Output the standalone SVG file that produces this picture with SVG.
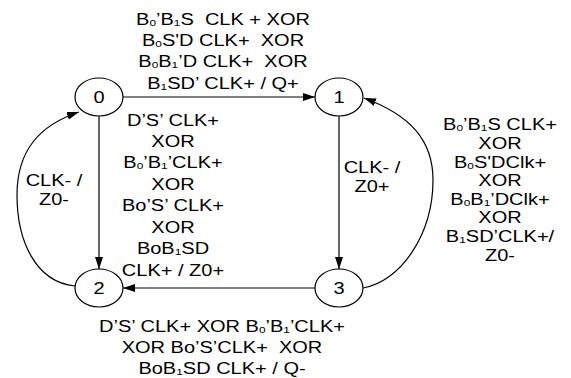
<svg xmlns="http://www.w3.org/2000/svg" width="571" height="378" viewBox="0 0 571 378">
  <style>
    .t { font-family: "Liberation Sans", Arial, sans-serif; font-size: 16px; fill: #000; text-anchor: middle; }
    .s { font-size: 9.5px; }
    .node { fill: #fff; stroke: #000; stroke-width: 1.2; }
    .edge { fill: none; stroke: #000; stroke-width: 1.2; marker-end: url(#ah); }
  </style>
  <defs>
    <marker id="ah" markerWidth="13" markerHeight="9" refX="12" refY="4" orient="auto" markerUnits="userSpaceOnUse">
      <path d="M0,0 L12,4 L0,8 z" fill="#000"/>
    </marker>
  </defs>
  <rect width="571" height="378" fill="#fff"/>

  <!-- transitions -->
  <g id="connectors">
    <line class="edge" x1="123" y1="97" x2="315" y2="97"/>
    <line class="edge" x1="99" y1="116" x2="99" y2="269"/>
    <line class="edge" x1="339" y1="116" x2="339" y2="269"/>
    <line class="edge" x1="315" y1="288" x2="123" y2="288"/>
    <path class="edge" d="M75,286 C35,282 17,240 17,195 C17,150 40,125 79,112"/>
    <path class="edge" d="M363,288 C400,282 433,235 433,180 C433,140 410,115 364,98"/>
  </g>

  <!-- states -->
  <g id="s0">
    <ellipse class="node" cx="99" cy="97" rx="24" ry="19"/>
    <text class="t" transform="matrix(1.25 0 0 1 99 0)" x="0" y="103">0</text>
  </g>
  <g id="s1">
    <ellipse class="node" cx="339" cy="97" rx="24" ry="19"/>
    <text class="t" transform="matrix(1.25 0 0 1 339 0)" x="0" y="103">1</text>
  </g>
  <g id="s2">
    <ellipse class="node" cx="99" cy="288" rx="24" ry="19"/>
    <text class="t" transform="matrix(1.25 0 0 1 99 0)" x="0" y="294">2</text>
  </g>
  <g id="s3">
    <ellipse class="node" cx="339" cy="288" rx="24" ry="19"/>
    <text class="t" transform="matrix(1.25 0 0 1 339 0)" x="0" y="294">3</text>
  </g>

  <!-- transition labels: one text per line, horizontally widened -->
  <g id="label-0-1" transform="matrix(1.25 0 0 1 223 0)">
    <text class="t" x="0" y="25">B<tspan class="s" dy="1">0</tspan><tspan dy="-1">’B</tspan><tspan class="s" dy="1">1</tspan><tspan dy="-1">S&#160; CLK + XOR</tspan></text>
    <text class="t" x="0" y="46">B<tspan class="s" dy="1">0</tspan><tspan dy="-1">S'D CLK+&#160; XOR</tspan></text>
    <text class="t" x="0" y="67.5">B<tspan class="s" dy="1">0</tspan><tspan dy="-1">B</tspan><tspan class="s" dy="1">1</tspan><tspan dy="-1">’D CLK+&#160; XOR</tspan></text>
    <text class="t" x="0" y="89">B<tspan class="s" dy="1">1</tspan><tspan dy="-1">SD’ CLK+ / Q+</tspan></text>
  </g>
  <g id="label-0-2" transform="matrix(1.25 0 0 1 173 0)">
    <text class="t" x="0" y="126">D’S’ CLK+</text>
    <text class="t" x="0" y="147">XOR</text>
    <text class="t" x="0" y="168.5">B<tspan class="s" dy="1">0</tspan><tspan dy="-1">’B</tspan><tspan class="s" dy="1">1</tspan><tspan dy="-1">’CLK+</tspan></text>
    <text class="t" x="0" y="190">XOR</text>
    <text class="t" x="0" y="211.5">Bo’S’ CLK+</text>
    <text class="t" x="0" y="233">XOR</text>
    <text class="t" x="0" y="254.5">BoB<tspan class="s" dy="1">1</tspan><tspan dy="-1">SD</tspan></text>
    <text class="t" x="0" y="276">CLK+ / Z0+</text>
  </g>
  <g id="label-1-3" transform="matrix(1.25 0 0 1 372 0)">
    <text class="t" x="0" y="173">CLK- /</text>
    <text class="t" x="0" y="192">Z0+</text>
  </g>
  <g id="label-2-0" transform="matrix(1.25 0 0 1 54 0)">
    <text class="t" x="0" y="186">CLK- /</text>
    <text class="t" x="0" y="205">Z0-</text>
  </g>
  <g id="label-3-1" transform="matrix(1.25 0 0 1 500 0)">
    <text class="t" x="0" y="130.5">B<tspan class="s" dy="1">0</tspan><tspan dy="-1">’B</tspan><tspan class="s" dy="1">1</tspan><tspan dy="-1">S CLK+</tspan></text>
    <text class="t" x="0" y="149">XOR</text>
    <text class="t" x="0" y="167.7">B<tspan class="s" dy="1">0</tspan><tspan dy="-1">S'DClk+</tspan></text>
    <text class="t" x="0" y="186.3">XOR</text>
    <text class="t" x="0" y="205">B<tspan class="s" dy="1">0</tspan><tspan dy="-1">B</tspan><tspan class="s" dy="1">1</tspan><tspan dy="-1">’DClk+</tspan></text>
    <text class="t" x="0" y="223.5">XOR</text>
    <text class="t" x="0" y="242">B<tspan class="s" dy="1">1</tspan><tspan dy="-1">SD’CLK+/</tspan></text>
    <text class="t" x="0" y="260.7">Z0-</text>
  </g>
  <g id="label-3-2" transform="matrix(1.25 0 0 1 222 0)">
    <text class="t" x="0" y="332">D’S’ CLK+ XOR B<tspan class="s" dy="1">0</tspan><tspan dy="-1">’B</tspan><tspan class="s" dy="1">1</tspan><tspan dy="-1">’CLK+</tspan></text>
    <text class="t" x="0" y="353">XOR Bo’S’CLK+&#160; XOR</text>
    <text class="t" x="0" y="374">BoB<tspan class="s" dy="1">1</tspan><tspan dy="-1">SD CLK+ / Q-</tspan></text>
  </g>
</svg>
